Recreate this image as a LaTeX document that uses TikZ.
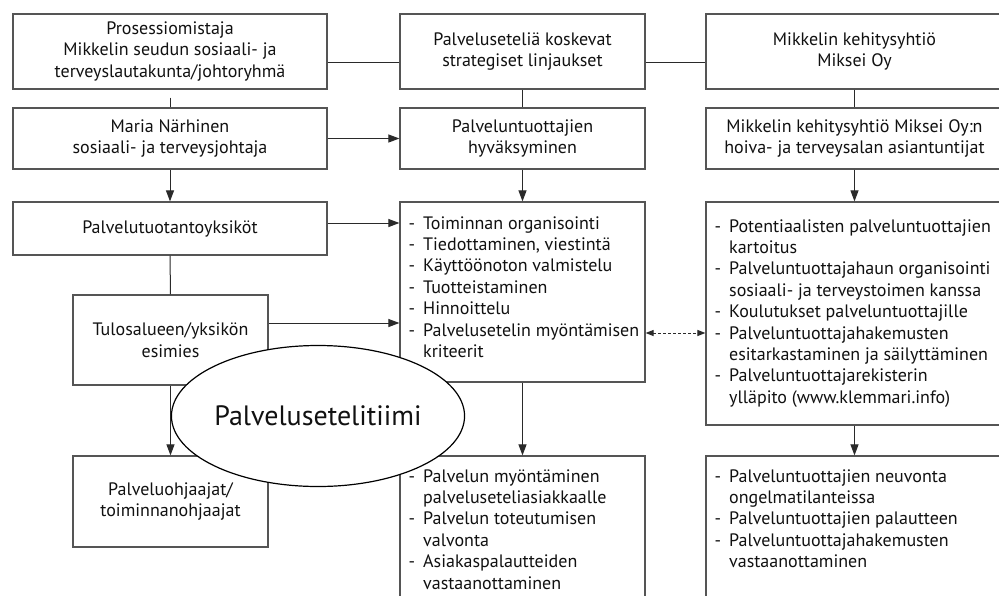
\documentclass[tikz,border=0pt]{standalone}
\usepackage{fontspec}
\setmainfont{PT Sans}
\usetikzlibrary{arrows.meta,shapes.geometric}
\definecolor{boxgray}{HTML}{555555}
\definecolor{linecol}{HTML}{2A2A2A}
\definecolor{txt}{HTML}{111111}
\newcommand\mainfnt{\fontsize{18}{21.4}\selectfont}
\newcommand\lidash{-\hspace{0.45em}}
\newcommand\liind{\hphantom{-\hspace{0.45em}}}
\begin{document}
\begin{tikzpicture}[x=1pt,y=-1pt,
  box/.style={draw=boxgray,line width=1.2pt,rectangle,inner sep=0pt,align=center,font=\mainfnt,text=txt},
  listtxt/.style={anchor=north west,inner sep=0pt,align=left,font=\mainfnt,text=txt},
  conn/.style={draw=linecol,line width=1pt},
  arr/.style={conn,-{Triangle[length=11pt,width=8pt]}},
  darr/.style={conn,dash pattern=on 3pt off 2pt,{Triangle[length=8pt,width=6pt]}-{Triangle[length=8pt,width=6pt]}}]
\clip (0,0) rectangle (999,595);
\fill[white] (0,0) rectangle (999,595);
% row 1
\node[box,minimum width=314pt,minimum height=75pt] (A) at (170,51.5) {Prosessiomistaja\\Mikkelin seudun sosiaali- ja\\terveyslautakunta/johtoryhmä};
\node[box,minimum width=245pt,minimum height=75pt] (B) at (522.5,51.5) {Palveluseteliä koskevat\\strategiset linjaukset};
\node[box,minimum width=297pt,minimum height=75pt] (C) at (854.5,51.5) {Mikkelin kehitysyhtiö\\Miksei Oy};
% row 2
\node[box,minimum width=314pt,minimum height=61pt] (D) at (170,138.5) {Maria Närhinen\\sosiaali- ja terveysjohtaja};
\node[box,minimum width=245pt,minimum height=61pt] (E) at (522.5,138.5) {Palveluntuottajien\\hyväksyminen};
\node[box,minimum width=297pt,minimum height=61pt] (F) at (854.5,138.5) {Mikkelin kehitysyhtiö Miksei Oy:n\\hoiva- ja terveysalan asiantuntijat};
% row 3
\node[box,minimum width=314pt,minimum height=53pt] (G) at (170,228.5) {Palvelutuotantoyksiköt};
\node[box,minimum width=245pt,minimum height=180pt] (H) at (522.5,292) {};
\node[box,minimum width=297pt,minimum height=223pt] (I) at (854.5,313.5) {};
\node[box,minimum width=195pt,minimum height=90pt] (J) at (170.5,340) {Tulosalueen/yksikön\\esimies};
% row 4
\node[box,minimum width=195pt,minimum height=91pt] (K) at (170.5,501.5) {Palveluohjaajat/\\toiminnanohjaajat};
\node[box,minimum width=245pt,minimum height=170pt] (L) at (522.5,541) {};
\node[box,minimum width=297pt,minimum height=170pt] (M) at (854.5,541) {};
% list texts
\node[listtxt] (Ht) at ([xshift=9pt,yshift=-12.5pt]H.north west) {\strut\lidash Toiminnan organisointi\\\lidash Tiedottaminen, viestintä\\\lidash Käyttöönoton valmistelu\\\lidash Tuotteistaminen\\\lidash Hinnoittelu\\\lidash Palvelusetelin myöntämisen\\\liind kriteerit};
\node[listtxt] (It) at ([xshift=9pt,yshift=-15.5pt]I.north west) {\strut\lidash Potentiaalisten palveluntuottajien\\\liind kartoitus\\\lidash Palveluntuottajahaun organisointi\\\liind sosiaali- ja terveystoimen kanssa\\\lidash Koulutukset palveluntuottajille\\\lidash Palveluntuottajahakemusten\\\liind esitarkastaminen ja säilyttäminen\\\lidash Palveluntuottajarekisterin\\\liind ylläpito (www.klemmari.info)};
\node[listtxt] (Lt) at ([xshift=9pt,yshift=-11.5pt]L.north west) {\strut\lidash Palvelun myöntäminen\\\liind palveluseteliasiakkaalle\\\lidash Palvelun toteutumisen\\\liind valvonta\\\lidash Asiakaspalautteiden\\\liind vastaanottaminen};
\node[listtxt] (Mt) at ([xshift=9pt,yshift=-11.5pt]M.north west) {\strut\lidash Palveluntuottajien neuvonta\\\liind ongelmatilanteissa\\\lidash Palveluntuottajien palautteen\\\lidash Palveluntuottajahakemusten\\\liind vastaanottaminen};
% connectors
\draw[conn] ([yshift=-10.5pt]A.east) -- ([yshift=-10.5pt]B.west);
\draw[conn] ([yshift=-10.5pt]B.east) -- ([yshift=-10.5pt]C.west);
\draw[conn] ([yshift=-8pt]A.south) -- (D.north);
\draw[conn] (B.south) -- (E.north);
\draw[conn] (C.south) -- (F.north);
\draw[arr] (D.east) -- (E.west);
\draw[arr] (D.south) -- (G.north);
\draw[arr] (E.south) -- (H.north);
\draw[arr] (F.south) -- (I.north);
\coordinate (g1) at ([yshift=5.5pt]G.east);
\draw[arr] (g1) -- (g1 -| H.west);
\coordinate (j1) at ([yshift=17pt]J.east);
\draw[arr] (j1) -- (j1 -| H.west);
\draw[conn] (G.south) -- (J.north);
\draw[arr] (J.south) -- (K.north);
\draw[arr] (H.south) -- (L.north);
\draw[arr] (I.south) -- (M.north);
\coordinate (h1) at ([yshift=-41pt]H.east);
\draw[darr] (h1) -- (h1 -| I.west);
% team ellipse
\node[ellipse,draw=black,line width=1.2pt,fill=white,minimum width=263pt,minimum height=141pt,inner sep=0pt,font=\fontsize{28}{33}\selectfont,text=txt] (T) at (318,416) {Palvelusetelitiimi};
\end{tikzpicture}
\end{document}
